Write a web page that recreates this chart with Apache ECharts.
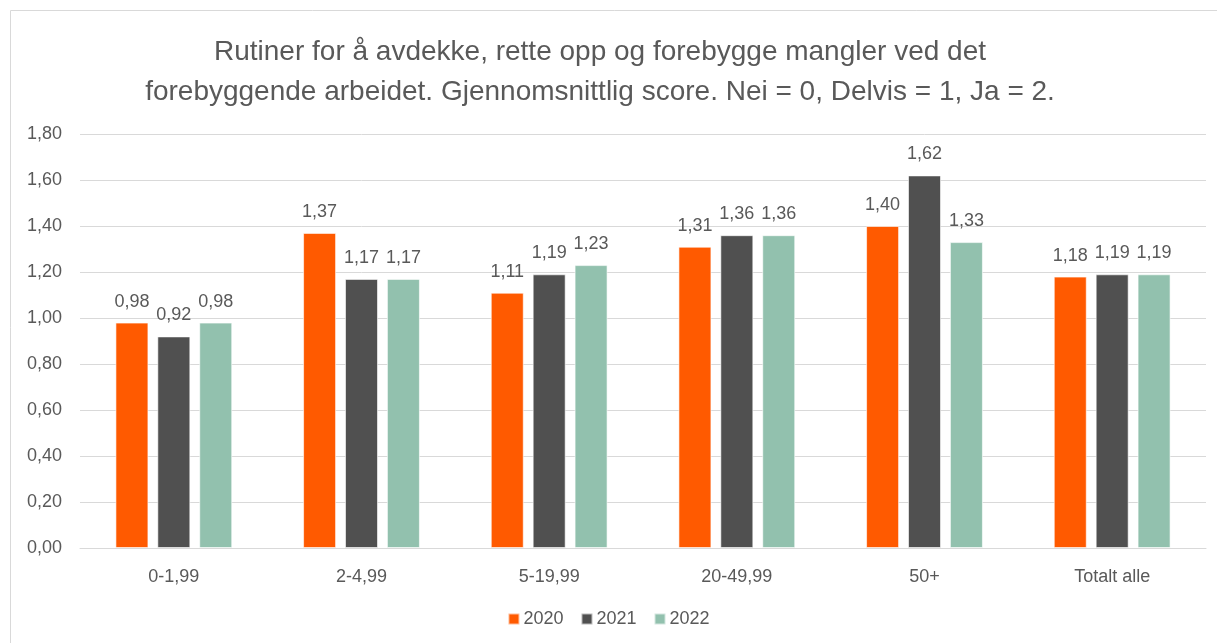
<!DOCTYPE html>
<html>
<head>
<meta charset="utf-8">
<script src="https://cdn.jsdelivr.net/npm/echarts@6/dist/echarts.min.js"></script>
<style>
  html, body { margin: 0; padding: 0; background: #fff; }
  #chart { width: 1217px; height: 643px; }
</style>
</head>
<body>
<div id="chart"></div>
<script>
// kategorier og verdier lest av figuren
var categories = ['0-1,99', '2-4,99', '5-19,99', '20-49,99', '50+', 'Totalt alle'];
var years = ['2020', '2021', '2022'];
var values2020 = [0.98, 1.37, 1.11, 1.31, 1.40, 1.18];
var values2021 = [0.92, 1.17, 1.19, 1.36, 1.62, 1.19];
var values2022 = [0.98, 1.17, 1.23, 1.36, 1.33, 1.19];
var yTicks = [0, 0.2, 0.4, 0.6, 0.8, 1.0, 1.2, 1.4, 1.6, 1.8];

var colors = ['#FF5A00', '#505050', '#92C1AE'];
var textColor = '#595959';
var fontName = '"Liberation Sans", Arial, sans-serif';

// komma som desimaltegn
var fmt = function(v) {
  return v.toFixed(2).replace('.', ',');
};

var makeSeries = function(name, data, color) {
  return {
    name: name,
    type: 'bar',
    data: data,
    barWidth: 33,
    barGap: '27%',
    itemStyle: { color: color, borderColor: 'rgba(255,255,255,0.6)', borderWidth: 1 },
    label: {
      show: true,
      position: 'top',
      distance: 12,
      color: textColor,
      fontSize: 18,
      fontFamily: fontName,
      formatter: function(p) { return fmt(p.value); }
    }
  };
};

var myChart = echarts.init(document.getElementById('chart'));
myChart.setOption({
  animation: false,
  color: colors,
  textStyle: { fontFamily: fontName },
  graphic: [{
    type: 'rect',
    shape: { x: 10.5, y: 10.5, width: 1300, height: 700 },
    style: { fill: 'none', stroke: '#d9d9d9', lineWidth: 1 },
    silent: true
  }],
  title: {
    text: 'Rutiner for å avdekke, rette opp og forebygge mangler ved det\nforebyggende arbeidet. Gjennomsnittlig score. Nei = 0, Delvis = 1, Ja = 2.',
    left: 595,
    top: 27,
    textAlign: 'center',
    textStyle: {
      color: textColor,
      fontSize: 28,
      fontWeight: 'normal',
      lineHeight: 40,
      fontFamily: fontName
    }
  },
  legend: {
    data: years,
    bottom: 10,
    left: 'center',
    icon: 'rect',
    itemWidth: 11,
    itemHeight: 11,
    itemGap: 17,
    textStyle: { color: textColor, fontSize: 18, fontFamily: fontName, padding: [0, 0, 0, -1] }
  },
  grid: {
    left: 80,
    right: 11,
    top: 134,
    bottom: 95,
    containLabel: false
  },
  xAxis: {
    type: 'category',
    data: categories,
    axisLine: { lineStyle: { color: '#d9d9d9', width: 1 } },
    axisTick: { show: false },
    axisLabel: { color: textColor, fontSize: 18, margin: 20, fontFamily: fontName }
  },
  yAxis: {
    type: 'value',
    min: yTicks[0],
    max: yTicks[yTicks.length - 1],
    interval: 0.2,
    axisLine: { show: false },
    axisTick: { show: false },
    splitLine: { lineStyle: { color: '#d9d9d9', width: 1 } },
    axisLabel: {
      color: textColor,
      fontSize: 18,
      margin: 18,
      fontFamily: fontName,
      formatter: function(v) { return fmt(v); }
    }
  },
  series: [
    makeSeries(years[0], values2020, colors[0]),
    makeSeries(years[1], values2021, colors[1]),
    makeSeries(years[2], values2022, colors[2])
  ]
});
</script>
</body>
</html>
